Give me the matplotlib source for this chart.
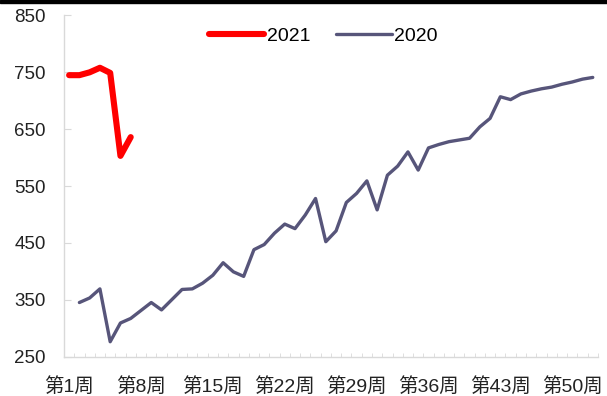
import matplotlib.pyplot as plt
from matplotlib.patches import Rectangle
import numpy as np

plt.rcParams['font.family'] = ['Liberation Sans', 'Noto Sans CJK SC', 'DejaVu Sans']

weeks = list(range(1, 53))
week_labels = ["第%d周" % w for w in weeks]

weeks_2021 = [1, 2, 3, 4, 5, 6, 7]
price_2021 = [745, 745, 750, 758, 749, 603, 636]

weeks_2020 = list(range(2, 53))
price_2020 = [345, 353, 369, 276, 309, 317, 331, 345, 332, 350,
              368, 369, 379, 393, 415, 399, 391, 438, 447, 467,
              483, 475, 499, 528, 452, 471, 521, 537, 559, 508,
              569, 585, 610, 578, 617, 623, 628, 631, 634, 654,
              669, 707, 702, 712, 717, 721, 724, 729, 733, 738, 741]

fig = plt.figure(figsize=(6.07, 3.96), dpi=100)
ax = fig.add_axes([0.1054, 0.0997, 0.8796, 0.8612])

ax.plot(weeks_2021, price_2021, color="#ff0000", lw=4.4, label="2021",
        solid_joinstyle="round", solid_capstyle="round")
ax.plot(weeks_2020, price_2020, color="#57557a", lw=2.4, label="2020",
        solid_joinstyle="round", solid_capstyle="round")

ax.set_xlim(0.5, 52.5)
ax.set_ylim(250, 850)
ax.set_yticks(np.arange(250, 851, 100))
ax.set_xticks(weeks[::7])
ax.set_xticklabels(week_labels[::7])
ax.set_xticks(np.arange(0.5, 53, 1), minor=True)

for s in ["top", "right"]:
    ax.spines[s].set_visible(False)
for s in ["left", "bottom"]:
    ax.spines[s].set_color("#d9d9d9")
    ax.spines[s].set_linewidth(1.0)

ax.tick_params(axis="y", direction="in", length=5, color="#d9d9d9",
               labelsize=13.5, pad=13, labelcolor="#222222")
ax.tick_params(axis="x", which="major", length=0, labelsize=14, pad=15,
               labelcolor="#222222")
ax.tick_params(axis="x", which="minor", direction="in", length=3,
               color="#d9d9d9")

ax.legend(loc="center", bbox_to_anchor=(0.486, 0.94), ncol=2,
          frameon=False, fontsize=14, handlelength=2.85, handletextpad=0.15,
          columnspacing=1.3)

fig.patches.append(Rectangle((0, 0.992), 1, 0.008, transform=fig.transFigure,
                             color="black", zorder=10))

fig.savefig("out.png", dpi=100)
